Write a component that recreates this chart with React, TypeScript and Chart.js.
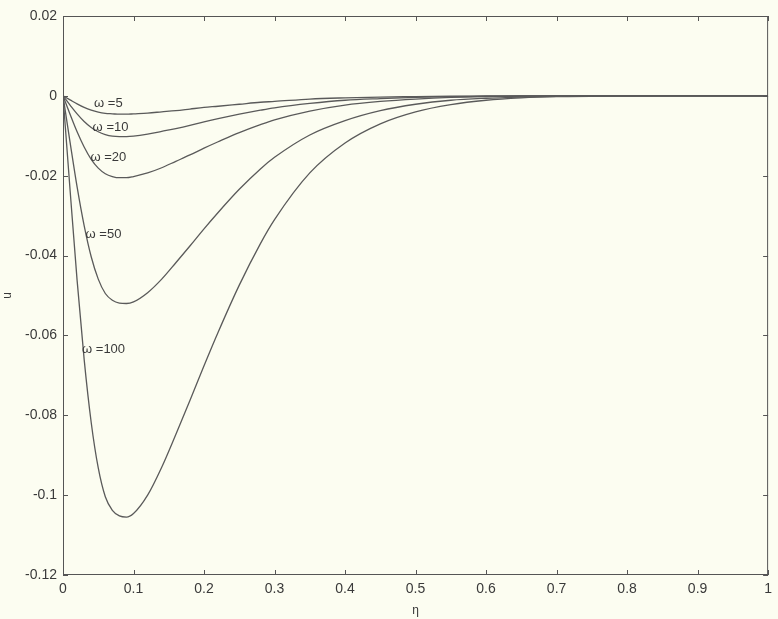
import React, { useEffect, useRef } from "react";
import { Chart, registerables } from "chart.js";

Chart.register(...registerables);

// η grid
const eta = [0, 0.01, 0.02, 0.03, 0.04, 0.05, 0.06, 0.07, 0.08, 0.09, 0.1, 0.12, 0.14, 0.16, 0.18, 0.2, 0.22, 0.25, 0.28, 0.3, 0.35, 0.4, 0.45, 0.5, 0.55, 0.6, 0.65, 0.7, 0.8, 0.9, 1.0];

const u5 = [0, -0.001, -0.002, -0.0029, -0.0036, -0.0041, -0.0044, -0.0045, -0.0046, -0.0046, -0.0045, -0.0043, -0.004, -0.0037, -0.0033, -0.0029, -0.0026, -0.0021, -0.0016, -0.0014, -0.0008, -0.0005, -0.0003, -0.0002, -0.0001, 0, 0, 0, 0, 0, 0];
const u10 = [0, -0.0023, -0.0045, -0.0064, -0.0079, -0.009, -0.0097, -0.0101, -0.0102, -0.0102, -0.0101, -0.0096, -0.0089, -0.0082, -0.0074, -0.0065, -0.0057, -0.0046, -0.0036, -0.003, -0.0019, -0.0011, -0.0007, -0.0004, -0.0002, -0.0001, 0, 0, 0, 0, 0];
const u20 = [0, -0.0046, -0.009, -0.0128, -0.0159, -0.0181, -0.0195, -0.0202, -0.0205, -0.0205, -0.0202, -0.0193, -0.018, -0.0164, -0.0148, -0.0131, -0.0115, -0.0092, -0.0072, -0.006, -0.0038, -0.0023, -0.0014, -0.0008, -0.0004, -0.0002, -0.0001, 0, 0, 0, 0];
const u50 = [0, -0.0116, -0.0228, -0.0325, -0.0403, -0.0459, -0.0495, -0.0512, -0.0519, -0.052, -0.0516, -0.0493, -0.0459, -0.0418, -0.0376, -0.0333, -0.0292, -0.0234, -0.0183, -0.0154, -0.0098, -0.0062, -0.0037, -0.0021, -0.0011, -0.0006, -0.0003, -0.0001, 0, 0, 0];
const u100 = [0, -0.0235, -0.0462, -0.066, -0.0818, -0.0932, -0.1004, -0.1038, -0.1052, -0.1055, -0.1046, -0.1, -0.093, -0.0848, -0.0763, -0.0676, -0.0592, -0.0474, -0.037, -0.031, -0.0193, -0.0118, -0.007, -0.004, -0.0022, -0.0011, -0.0005, -0.0002, -0.00003, 0, 0];

const seriesValues = [u5, u10, u20, u50, u100];
const seriesNames = ["ω =5", "ω =10", "ω =20", "ω =50", "ω =100"];
// label anchors in data coordinates (η, u) — left edge, vertical middle
const labelEta = [0.044, 0.042, 0.039, 0.032, 0.027];
const labelU = [-0.002, -0.008, -0.0155, -0.0346, -0.0636];

const xTicks = [0, 0.1, 0.2, 0.3, 0.4, 0.5, 0.6, 0.7, 0.8, 0.9, 1];
const yTicks = [0.02, 0, -0.02, -0.04, -0.06, -0.08, -0.1, -0.12];

const BG = "#fcfdf1";
const INK = "#555555";
const TEXT = "#3a3a3a";
const FONT = "'Liberation Sans', Arial, sans-serif";

const framePlugin = {
  id: "framePlugin",
  beforeDraw(chart: any) {
    const { ctx, width, height } = chart;
    ctx.save();
    ctx.fillStyle = BG;
    ctx.fillRect(0, 0, width, height);
    ctx.restore();
  },
  afterDraw(chart: any) {
    const { ctx, chartArea } = chart;
    const { left, right, top, bottom } = chartArea;
    const xs = chart.scales.x;
    const ys = chart.scales.y;
    ctx.save();
    ctx.strokeStyle = INK;
    ctx.lineWidth = 1;
    ctx.strokeRect(left + 0.5, top + 0.5, right - left - 1, bottom - top - 1);
    const tl = 5;
    ctx.beginPath();
    xTicks.forEach((v) => {
      const px = Math.round(xs.getPixelForValue(v)) + 0.5;
      ctx.moveTo(px, bottom);
      ctx.lineTo(px, bottom - tl);
      ctx.moveTo(px, top);
      ctx.lineTo(px, top + tl);
    });
    yTicks.forEach((v) => {
      const py = Math.round(ys.getPixelForValue(v)) + 0.5;
      ctx.moveTo(left, py);
      ctx.lineTo(left + tl, py);
      ctx.moveTo(right, py);
      ctx.lineTo(right - tl, py);
    });
    ctx.stroke();

    // series labels
    ctx.fillStyle = TEXT;
    ctx.textBaseline = "middle";
    ctx.textAlign = "left";
    ctx.font = `13px ${FONT}`;
    seriesNames.forEach((name, i) => {
      const px = xs.getPixelForValue(labelEta[i]);
      const py = ys.getPixelForValue(labelU[i]);
      ctx.fillText(name, px, py);
    });

    // axis titles
    ctx.font = `12px ${FONT}`;
    ctx.textAlign = "center";
    ctx.fillText("η", (left + right) / 2, bottom + 36);
    ctx.save();
    ctx.translate(8, (top + bottom) / 2);
    ctx.rotate(-Math.PI / 2);
    ctx.fillText("u", 0, 0);
    ctx.restore();
    ctx.restore();
  },
};

export default function App() {
  const ref = useRef<HTMLCanvasElement | null>(null);
  useEffect(() => {
    document.body.style.margin = "0";
    document.body.style.background = BG;
    const canvas = ref.current!;
    const chart = new Chart(canvas, {
      type: "line",
      data: {
        datasets: seriesValues.map((vals, i) => ({
          label: seriesNames[i],
          data: eta.map((x, j) => ({ x, y: vals[j] })),
          borderColor: "#5a5a5a",
          borderWidth: 1.3,
          pointRadius: 0,
          fill: false,
          cubicInterpolationMode: "monotone" as const,
        })),
      },
      options: {
        responsive: false,
        animation: false,
        layout: { padding: { top: 16, right: 5, left: 0, bottom: 0 } },
        plugins: { legend: { display: false }, tooltip: { enabled: false } },
        scales: {
          x: {
            type: "linear",
            min: 0,
            max: 1,
            afterBuildTicks: (s: any) => {
              s.ticks = xTicks.map((v) => ({ value: v }));
            },
            afterFit: (s: any) => {
              s.height = 44;
            },
            grid: { display: false, drawTicks: false, tickLength: 0 },
            border: { display: false },
            ticks: {
              padding: 6,
              color: TEXT,
              font: { family: FONT, size: 14 },
              maxRotation: 0,
              callback: (v: any) => String(Number(Number(v).toFixed(2))),
            },
          },
          y: {
            type: "linear",
            min: -0.12,
            max: 0.02,
            afterBuildTicks: (s: any) => {
              s.ticks = yTicks.map((v) => ({ value: v }));
            },
            afterFit: (s: any) => {
              s.width = 63;
            },
            grid: { display: false, drawTicks: false, tickLength: 0 },
            border: { display: false },
            ticks: {
              padding: 6,
              color: TEXT,
              font: { family: FONT, size: 14 },
              callback: (v: any) => String(Number(Number(v).toFixed(2))),
            },
          },
        },
      },
      plugins: [framePlugin],
    });
    return () => chart.destroy();
  }, []);
  return <canvas ref={ref} width={778} height={619} style={{ display: "block" }} />;
}
